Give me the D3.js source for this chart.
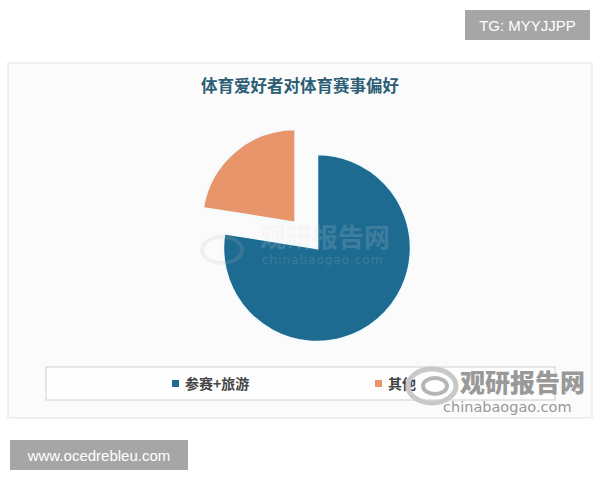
<!DOCTYPE html>
<html><head><meta charset="utf-8">
<script src="https://cdn.jsdelivr.net/npm/d3@7"></script>
<style>body{margin:0;background:#fff;}svg{display:block;}</style>
</head><body>
<svg id="c" width="600" height="480"></svg>
<script>
const title = "体育爱好者对体育赛事偏好";
const categories = ["参赛+旅游", "其他"];
const values = [77.5, 22.5];
const colors = ["#1e6b92", "#e8956c"];

const svg = d3.select("#c");
// panel
svg.append("rect").attr("x",8).attr("y",63).attr("width",584).attr("height",355)
  .attr("fill","#fbfbfb").attr("stroke","#ececec").attr("stroke-width",1.5);
svg.append("text").attr("x",300).attr("y",92).attr("text-anchor","middle")
  .attr("font-family","Noto Sans CJK SC").attr("font-weight","bold").attr("font-size",16.5)
  .attr("fill","#2b5d74").text(title);

const cx = 317, cy = 248, r = 94, explode = 33;
const pie = d3.pie().sort(null).value(d => d)(values);
const arc = d3.arc().innerRadius(0).outerRadius(r);
const g = svg.append("g").attr("transform",`translate(${cx},${cy})`);
g.selectAll("path").data(pie).join("path")
  .attr("d", arc)
  .attr("transform", (d,i) => {
    if (i === 0) return null;
    const m = (d.startAngle + d.endAngle)/2;
    return `translate(${Math.sin(m)*explode},${-Math.cos(m)*explode})`;
  })
  .attr("fill",(d,i)=>colors[i]).attr("stroke","#f4fbfd").attr("stroke-width",2.5);

// faint central watermark (over the pie)
const wm = svg.append("g").attr("opacity",0.16);
wm.append("ellipse").attr("cx",222).attr("cy",250).attr("rx",20).attr("ry",13)
  .attr("fill","none").attr("stroke","#bbb").attr("stroke-width",4);
wm.append("text").attr("x",260).attr("y",247).attr("font-family","Noto Sans CJK SC").attr("font-weight","bold")
  .attr("font-size",26).attr("fill","#ddd").text("观研报告网");
wm.append("text").attr("x",262).attr("y",264).attr("font-family","DejaVu Sans").attr("font-size",12)
  .attr("fill","#ccc").attr("letter-spacing",1).text("chinabaogao.com");

// legend
svg.append("rect").attr("x",46).attr("y",367).attr("width",509).attr("height",33)
  .attr("fill","#fefefe").attr("stroke","#d6d6d6").attr("stroke-width",1.2);
const lx = [172, 375];
categories.forEach((c,i)=>{
  svg.append("rect").attr("x",lx[i]).attr("y",380).attr("width",7).attr("height",7).attr("fill",colors[i]);
  svg.append("text").attr("x",lx[i]+13).attr("y",389).attr("font-family","Noto Sans CJK SC")
    .attr("font-weight","bold").attr("font-size",14).attr("fill","#444").text(c);
});

// logo watermark lower right
const lg = svg.append("g");
lg.append("ellipse").attr("cx",432).attr("cy",386).attr("rx",24).attr("ry",17)
  .attr("fill","none").attr("stroke","#c8c8c8").attr("stroke-width",5);
lg.append("ellipse").attr("cx",435).attr("cy",386).attr("rx",12).attr("ry",8)
  .attr("fill","none").attr("stroke","#b5b5b5").attr("stroke-width",4);
lg.append("text").attr("x",460).attr("y",392).attr("font-family","Noto Sans CJK SC").attr("font-weight","900")
  .attr("font-size",25).attr("fill","#999").text("观研报告网");
lg.append("text").attr("x",443).attr("y",412).attr("font-family","DejaVu Sans").attr("font-size",14.5)
  .attr("fill","#999").text("chinabaogao.com");

// corner tags
svg.append("rect").attr("x",465).attr("y",10).attr("width",125).attr("height",30).attr("fill","#a6a6a6");
svg.append("text").attr("x",527.5).attr("y",31).attr("text-anchor","middle").attr("font-family","Liberation Sans")
  .attr("font-size",15).attr("fill","#fff").text("TG: MYYJJPP");
svg.append("rect").attr("x",10).attr("y",440).attr("width",178).attr("height",30).attr("fill","#a6a6a6");
svg.append("text").attr("x",99).attr("y",461).attr("text-anchor","middle").attr("font-family","Liberation Sans")
  .attr("font-size",15).attr("fill","#fff").text("www.ocedrebleu.com");
</script>
</body></html>
